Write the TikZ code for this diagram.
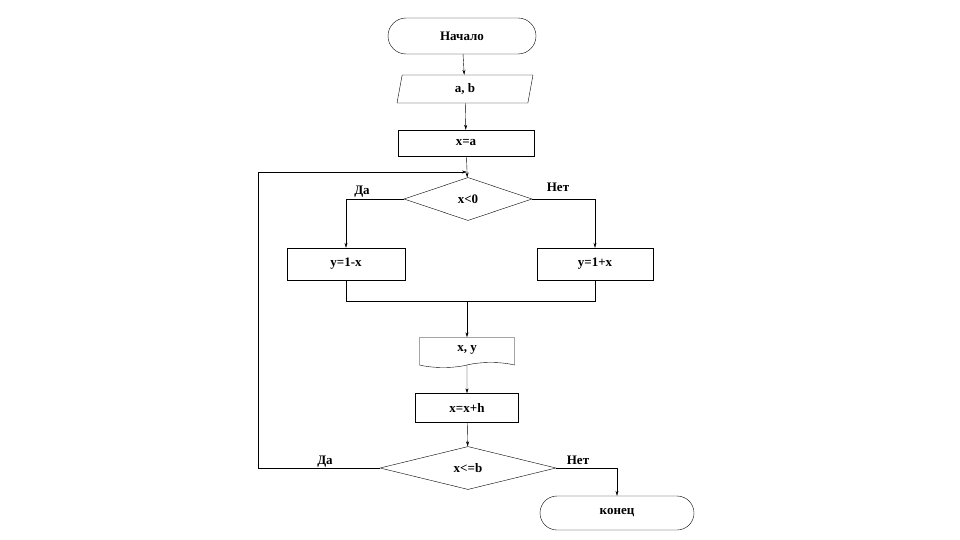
\documentclass[tikz,border=0pt]{standalone}
\usepackage{fontspec}
\setmainfont{Liberation Serif}
\usetikzlibrary{shapes.geometric,shapes.symbols,shapes.misc,arrows.meta}
\begin{document}
\begin{tikzpicture}[x=1pt,y=-1pt,
  every node/.style={font=\bfseries\fontsize{13}{15}\selectfont,draw,thin,inner sep=0pt},
  term/.style={rounded rectangle,minimum width=148pt,minimum height=36pt},
  box/.style={rectangle,minimum width=#1,minimum height=26pt},
  io/.style={trapezium,trapezium left angle=65,trapezium right angle=115,minimum width=110pt,minimum height=28pt,trapezium stretches=true},
  dec/.style={diamond,aspect=3,minimum width=#1,minimum height=43pt},
  doc/.style={tape,tape bend top=none,minimum width=95pt,minimum height=30pt},
  lbl/.style={draw=none},
  ln/.style={thin},
  ar/.style={thin,-{Stealth[length=5pt,width=3pt]}}]
\useasboundingbox (0,0) rectangle (960,540);
\node[term] (s) at (462,36) {Начало};
\node[io,minimum width=136pt,trapezium stretches body] (ab) at (465,89) {a, b};
\node[box=136pt] (xa) at (466,143) {x=a};
\node[dec=128pt] (d1) at (468,199) {x<0};
\node[box=118pt,minimum height=32pt] (y1) at (346,264) {y=1-x};
\node[box=116pt,minimum height=32pt] (y2) at (595,264) {y=1+x};
\node[doc] (out) at (467,350) {x, y};
\node[box=103pt,minimum height=29pt] (inc) at (467,408) {x=x+h};
\node[dec=176pt] (d2) at (468,468) {x<=b};
\node[term,minimum width=154pt,minimum height=34pt] (e) at (617,513) {конец};
\node[lbl] at (362,192) {Да};
\node[lbl] at (558,187) {Нет};
\node[lbl] at (325,462) {Да};
\node[lbl] at (578,460) {Нет};
\coordinate (m) at (467,301);
\draw[ar] (s) -- (ab);
\draw[ar] (ab) -- (xa);
\draw[ar] (xa) -- (d1);
\draw[ar] (d1.west) -| (y1.north);
\draw[ar] (d1.east) -| (y2.north);
\draw[ln] (y1.south) |- (m);
\draw[ln] (y2.south) |- (m);
\draw[ar] (m) -- (out);
\draw[ar] (out) -- (inc);
\draw[ar] (inc) -- (d2);
\draw[ar] (d2.west) -- (258,468) -- (258,172) -- (467,172);
\draw[ar] (d2.east) -| (e.north);
\end{tikzpicture}
\end{document}
